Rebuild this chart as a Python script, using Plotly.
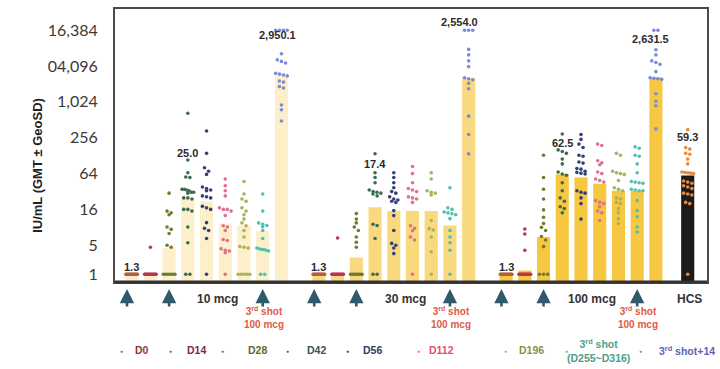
import numpy as np
import plotly.graph_objects as go

# ---------------- data ----------------
timepoints = ["D0", "D14", "D28", "D42", "D56", "D112", "D196",
              "3<sup>rd</sup> shot<br>(D255~D316)", "3<sup>rd</sup> shot+14"]
groups = ["10 mcg", "30 mcg", "100 mcg"]

# geometric mean titres (bar heights), one per timepoint
gmt_10mcg = [1.3, 1.3, 3.6, 25.0, 22.0, 9.3, 8.6, 7.0, 2950.1]
gmt_30mcg = [1.3, 1.3, 2.5, 17.4, 15.0, 15.0, 15.0, 8.6, 2554.0]
gmt_100mcg = [1.3, 1.5, 5.5, 62.5, 55.0, 43.0, 33.0, 33.0, 2631.5]
gmt_hcs = 59.3

# individual titres, one list per timepoint
dots_10mcg = [
    [1.3] * 15,
    [3.7] + [1.3] * 14,
    [30, 15, 14, 13, 8.1, 7.4, 6.3, 4.0, 3.7] + [1.3] * 6,
    [660, 108, 66, 56, 55, 35, 35, 34, 33, 31, 31, 30, 25, 25, 24, 16, 16, 15, 8.1, 4.4, 1.3, 1.3],
    [333, 140, 80, 70, 62, 38, 36, 34, 33, 27, 26, 25, 18, 17, 16, 9.6, 7.7, 7.1, 5.2, 1.3],
    [52, 40, 33, 27, 17, 16, 16, 15, 12.6, 8.5, 8.1, 7.1, 5.0, 4.8, 3.5, 3.3, 3.2, 3.0, 1.3],
    [47, 29, 24, 22, 17, 15, 13, 11, 9.5, 8.5, 7.1, 5.5, 3.8, 3.7, 3.6, 1.3, 1.3, 1.3, 1.3, 1.3],
    [29, 15, 9.5, 9, 8.6, 8.2, 7.1, 5.2, 3.6, 3.5, 3.4, 3.4, 3.3, 3.2, 1.3, 1.3],
    [16384] * 4 + [6600, 5200, 4900, 4600, 3100, 3000, 2900, 2800, 2300, 2200, 1850, 1750, 910, 755, 490],
]
dots_30mcg = [
    [1.3] * 15,
    [5.3] + [1.3] * 14,
    [13.6, 11, 9.5, 8.1, 7.1, 5.5, 4.5, 3.7] + [1.3] * 8,
    [138, 66, 55, 45, 34, 32, 31, 30, 29, 27, 9, 8.6, 5.2, 1.3, 1.3],
    [66, 55, 45, 37, 32, 30, 26, 24, 23, 22, 21, 15.3, 12.6, 7.1, 4.3, 4.0, 3.6, 2.9],
    [84, 64, 45, 36, 34, 32, 26, 25, 24, 21, 8.5, 7.7, 7.0, 5.5, 4.9, 1.3],
    [66, 52, 33, 31, 30, 28, 10.4, 7.6, 7.2, 5.5, 3.1, 1.3],
    [37, 17, 16, 14.5, 14, 13.5, 13, 11.2, 7.1, 5.5, 4.4, 3.3, 1.3],
    [16384] * 3 + [7800, 6300, 5000, 4000, 2600, 2500, 2400, 2100, 1700, 590, 290, 137],
]
dots_100mcg = [
    [1.3] * 15,
    [7.5, 6.2, 3.3] + [1.3] * 13,
    [130, 55, 35, 24, 15.7, 11.8, 9.3, 8.0, 7.1, 5.6, 4.9, 3.8, 1.3, 1.3, 1.3],
    [295, 160, 150, 140, 112, 93, 68, 63, 60, 45, 33, 25, 22, 17.7, 16.5, 14],
    [290, 240, 200, 175, 130, 125, 100, 96, 78, 76, 70, 67, 65, 63, 33, 31, 30, 25, 20, 11],
    [200, 190, 105, 97, 90, 68, 64, 52, 49, 46, 22.5, 21, 20, 17.7, 15, 14, 10.4],
    [140, 130, 70, 66, 64, 62, 49, 37, 35, 33, 25, 24, 21, 20, 16.5, 14, 11.2, 9.3],
    [180, 170, 130, 125, 93, 66, 47, 46, 45, 44, 35, 34, 33, 33, 22.5, 15.3, 12, 8.1, 6.7],
    [16384, 16384, 7700, 6300, 5000, 4700, 4400, 3300, 2600, 2550, 2500, 2450, 1400, 1050, 880, 360],
]
dots_hcs = [350, 175, 165, 140, 135, 112, 93, 68, 67, 66, 65, 64, 48, 46, 44, 40, 38, 36,
            30, 29, 28, 21, 20, 1.3]

y_tick_vals = [1.3, 4, 16, 64, 256, 1024, 4096, 16384]
y_tick_text = ["1", "5", "16", "64", "256", "1,024", "04,096", "16,384"]

# ---------------- styling ----------------
bar_colors = ["#FCEFC9", "#F9D97E", "#F6C841"]
hcs_bar_color = "#1B1B1B"
dot_colors = ["#B0603C", "#B8364F", "#6E7B30", "#3D6B4F", "#34407A",
              "#E07090", "#A9B35A", "#52C0B0", "#7B8BD6"]
legend_text_colors = ["#8E3B2E", "#84293F", "#5E6B2C", "#2F5A4C", "#2B3C5A",
                      "#D9546B", "#8C8F42", "#4C9E8A", "#5B63B5"]
hcs_dot_color = "#E8893E"

W, H = 720, 369
M_L, M_R, M_T, M_B = 115, 13, 7, 87
PLOT_W = W - M_L - M_R
PLOT_H = H - M_T - M_B
X_RANGE = [-0.89, 30.73]
Y_RANGE = [np.log10(0.966), np.log10(37200)]
PX_PER_DEC = PLOT_H / (Y_RANGE[1] - Y_RANGE[0])

group_start = [0, 10, 20]
hcs_x = 29.7
BAR_W = 0.7
FONT = "Liberation Sans, Arial"


def paper_x(px):
    return (px - M_L) / PLOT_W


def paper_y(py):
    return (H - M_B - py) / PLOT_H


def swarm(values, center):
    """Spread points that share (nearly) the same height sideways."""
    v = np.sort(np.asarray(values, float))[::-1]
    py = np.log10(v) * PX_PER_DEC
    xs, ys = [], []
    i = 0
    while i < len(v):
        j = i
        while j + 1 < len(v) and py[i] - py[j + 1] < 3.5:
            j += 1
        n = j - i + 1
        span = min((n - 1) * 0.22, 0.62)
        offs = np.linspace(-span / 2, span / 2, n) if n > 1 else np.array([0.0])
        xs.extend(center + offs)
        ys.extend(v[i:j + 1])
        i = j + 1
    return xs, ys


fig = go.Figure()

# bars
all_gmt = [gmt_10mcg, gmt_30mcg, gmt_100mcg]
all_dots = [dots_10mcg, dots_30mcg, dots_100mcg]
for g, gmts in enumerate(all_gmt):
    fig.add_trace(go.Bar(
        x=[group_start[g] + i for i in range(len(timepoints))], y=gmts,
        width=BAR_W, marker=dict(color=bar_colors[g], line=dict(width=0)),
        name=groups[g], hoverinfo="skip"))
fig.add_trace(go.Bar(x=[hcs_x], y=[gmt_hcs], width=BAR_W,
                     marker=dict(color=hcs_bar_color, line=dict(width=0)),
                     name="HCS", hoverinfo="skip"))

# individual points
for t in range(len(timepoints)):
    xs, ys = [], []
    for g in range(3):
        sx, sy = swarm(all_dots[g][t], group_start[g] + t)
        xs += sx
        ys += sy
    fig.add_trace(go.Scatter(x=xs, y=ys, mode="markers", name=timepoints[t],
                             marker=dict(size=3.6, color=dot_colors[t], line=dict(width=0))))
sx, sy = swarm(dots_hcs, hcs_x)
fig.add_trace(go.Scatter(x=sx, y=sy, mode="markers", name="HCS",
                         marker=dict(size=3.6, color=hcs_dot_color, line=dict(width=0))))

annotations = []
label_font = dict(family=FONT, size=11, color="#2B2B2B")


def note(x, y, text, font, xref="paper", yref="paper", **kw):
    annotations.append(dict(x=x, y=y, xref=xref, yref=yref, text=text, showarrow=False,
                            font=font, xanchor="center", yanchor="middle", **kw))


def value_label(x, anchor_value, text):
    note(x, np.log10(anchor_value), f"<b>{text}</b>", label_font, xref="x", yref="y")


# GMT labels
for g, gmts in enumerate(all_gmt):
    value_label(group_start[g], 1.72, f"{gmts[0]:.1f}")
value_label(group_start[0] + 3, 142, f"{gmt_10mcg[3]:.1f}")
value_label(group_start[1] + 3, 93, f"{gmt_30mcg[3]:.1f}")
value_label(group_start[2] + 3, 211, f"{gmt_100mcg[3]:.1f}")
value_label(group_start[0] + 7.8, 13700, f"{gmt_10mcg[8]:,.1f}")
value_label(group_start[1] + 7.5, 22600, f"{gmt_30mcg[8]:,.1f}")
value_label(group_start[2] + 7.7, 11800, f"{gmt_100mcg[8]:,.1f}")
value_label(hcs_x, 262, f"{gmt_hcs:.1f}")

# dosing arrows under the axis
arrow_color = "#2E5A6B"
for g in range(3):
    for xa in (group_start[g] - 0.25, group_start[g] + 2, group_start[g] + 7):
        annotations.append(dict(x=xa, y=paper_y(289), xref="x", yref="paper",
                                ax=0, ay=19, text="", showarrow=True,
                                arrowhead=2, arrowsize=1.1, arrowwidth=2.6,
                                arrowcolor=arrow_color))
    # booster note
    note(group_start[g] + 7.05, paper_y(318), "<b>3<sup>rd</sup> shot<br>100 mcg</b>",
         dict(family=FONT, size=10, color="#E05A46"), xref="x", align="center")

group_font = dict(family=FONT, size=12, color="#333333")
for g, name in enumerate(groups):
    note(group_start[g] + 4.6, paper_y(299), f"<b>{name}</b>", group_font, xref="x")
note(hcs_x + 0.1, paper_y(299), "<b>HCS</b>", group_font, xref="x")

# y-axis title
note(paper_x(38), paper_y(165), "<b>IU/mL (GMT ± GeoSD)</b>",
     dict(family=FONT, size=13, color="#222222"), textangle=-90)

# legend row
legend_dot_px = [121, 170, 222, 287, 347, 418, 505, 566, 640]
legend_text_px = [142, 196, 257, 316, 372, 441, 531, 598, 687]
for t in range(len(timepoints)):
    note(paper_x(legend_dot_px[t]), paper_y(352), "●", dict(size=5, color=dot_colors[t]))
    note(paper_x(legend_text_px[t]), paper_y(351), f"<b>{timepoints[t]}</b>",
         dict(family=FONT, size=10.5, color=legend_text_colors[t]), align="center")

fig.update_layout(
    width=W, height=H,
    margin=dict(l=M_L, r=M_R, t=M_T, b=M_B),
    paper_bgcolor="white", plot_bgcolor="white",
    showlegend=False, barmode="overlay",
    annotations=annotations,
    xaxis=dict(range=X_RANGE, showticklabels=False, ticks="", showgrid=False,
               zeroline=False, showline=True, mirror=True, linecolor="#4A4A4A", linewidth=2),
    yaxis=dict(type="log", range=Y_RANGE, tickvals=y_tick_vals, ticktext=y_tick_text,
               showgrid=False, zeroline=False, showline=True, mirror=True,
               linecolor="#4A4A4A", linewidth=2, ticks="", ticklabelstandoff=12,
               tickfont=dict(family="Lato, Open Sans", size=16, color="#3A3A3A")),
    shapes=[dict(type="line", xref="paper", yref="paper", x0=0, x1=1, y0=0, y1=0,
                 line=dict(color="#333333", width=3))],
)

fig.write_html("out.html")
